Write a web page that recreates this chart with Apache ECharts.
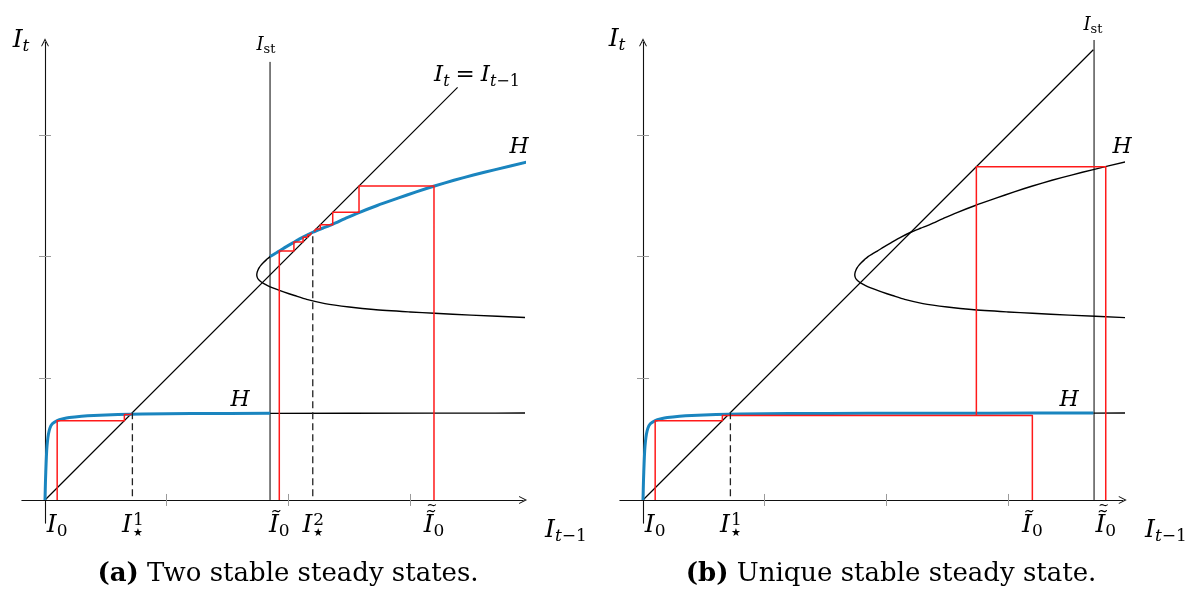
<!DOCTYPE html>
<html><head><meta charset="utf-8">
<script src="https://cdn.jsdelivr.net/npm/echarts@6/dist/echarts.min.js"></script>
<style>html,body{margin:0;padding:0;background:#fff}#c{width:1199px;height:596px}</style>
</head><body><div id="c"></div>
<script>
// ---------------- data (axis units) ----------------
const tickValues = [1, 2, 3];
// lower branch of H (low investment)
const hLow = [[0,0],[0.004,0.16],[0.009,0.3],[0.014,0.41],[0.02,0.48],[0.028,0.54],[0.04,0.59],[0.06,0.626],[0.1,0.652],[0.15,0.667],[0.2,0.677],[0.3,0.688],[0.4,0.695],[0.6,0.703],[0.8,0.707],[1.2,0.71],[1.85,0.712],[2.5,0.713],[3.2,0.714],[3.7,0.714],[3.97,0.715]];
// fold curve: lower part (nose -> right) and upper part (nose -> right)
const foldLower = [[1.74,1.85],[1.742,1.835],[1.748,1.82],[1.76,1.805],[1.78,1.789],[1.81,1.771],[1.85,1.752],[1.9,1.732],[1.96,1.71],[2.05,1.68],[2.15,1.648],[2.3,1.614],[2.5,1.586],[2.7,1.565],[3.0,1.545],[3.2,1.534],[3.5,1.519],[3.97,1.498]];
const foldUpper = [[1.74,1.85],[1.743,1.87],[1.75,1.89],[1.76,1.91],[1.775,1.93],[1.795,1.952],[1.82,1.975],[1.849,2.0],[1.885,2.022],[1.925,2.045],[1.98,2.08],[2.04,2.115],[2.12,2.16],[2.2,2.2],[2.28,2.233],[2.36,2.265],[2.46,2.31],[2.575,2.36],[2.73,2.42],[2.9,2.48],[3.05,2.532],[3.2,2.58],[3.36,2.627],[3.52,2.67],[3.7,2.715],[3.97,2.78]];
// panel (a)
const IstA = 1.849;
const IstTopA = 3.6;
const diagEndA = 3.39;
const cobA1 = [[0.1,0],[0.1,0.652],[0.652,0.652],[0.652,0.703],[0.703,0.703],[0.703,0.71],[0.71,0.71]];
const cobA2 = [[1.925,0],[1.925,2.045],[2.045,2.045],[2.045,2.12],[2.12,2.12],[2.12,2.158],[2.158,2.158],[2.158,2.178],[2.178,2.178],[2.178,2.19],[2.19,2.19],[2.19,2.197]];
const cobA3 = [[3.196,0],[3.196,2.58],[2.58,2.58],[2.58,2.364],[2.364,2.364],[2.364,2.262],[2.262,2.262],[2.262,2.227],[2.227,2.227],[2.227,2.213],[2.213,2.213],[2.213,2.206]];
const dashA = [[[0.718,0.03],[0.718,0.714]], [[2.2,0.03],[2.2,2.2]]];
const labelValsA = [0.1, 0.718, 1.925, 2.2, 3.196];
const labelTextA = ['{I|I}{s|0}', '{Iw|I}{p|1}\n{w| }{k|★}', '{I|Ĩ}{s|0}', '{Iw|I}{p|2}\n{w| }{k|★}', '{I|Ĩ}{s|0}'];
const doubleTildeA = [3.196];
// panel (b)
const IstB = 3.706;
const IstTopB = 3.78;
const diagEndB = 3.70;
const cobB1 = [[0.1,0],[0.1,0.652],[0.652,0.652],[0.652,0.695],[3.199,0.695],[3.199,0]];
const cobB2 = [[3.802,0],[3.802,2.739],[2.739,2.739],[2.739,0.695]];
const dashB = [[[0.718,0.03],[0.718,0.714]]];
const labelValsB = [0.1, 0.718, 3.199, 3.802];
const labelTextB = ['{I|I}{s|0}', '{Iw|I}{p|1}\n{w| }{k|★}', '{I|Ĩ}{s|0}', '{I|Ĩ}{s|0}'];
const doubleTildeB = [3.802];

// ---------------- styling ----------------
const F = "'DejaVu Serif','Liberation Serif',serif";
const BLUE = '#1a85bf', RED = '#ff1a1a';
const richAxis = {
  I:  {fontFamily:F, fontStyle:'italic', fontSize:25, lineHeight:14, height:14, color:'#000'},
  Iw: {fontFamily:F, fontStyle:'italic', fontSize:25, lineHeight:14, height:14, width:12, color:'#000'},
  s:  {fontFamily:F, fontSize:17, lineHeight:2, height:2, verticalAlign:'bottom', color:'#000'},
  p:  {fontFamily:F, fontSize:17, lineHeight:4, height:4, verticalAlign:'top', color:'#000'},
  k:  {fontFamily:"'DejaVu Sans',sans-serif", fontSize:11, lineHeight:2, height:2, verticalAlign:'bottom', color:'#000'},
  w:  {fontFamily:F, fontSize:17, lineHeight:2, height:2, width:11}
};
const arrowPath = 'path://M0,10 Q2.6,5 5,0 Q7.4,5 10,10 L8.7,10 Q6.6,6.2 5,2.8 Q3.4,6.2 1.3,10 Z';
const pick = (vals, texts) => (v, i) => { const k = vals.findIndex(x => Math.abs(x - v) < 1e-6); return texts[k >= 0 ? k : i]; };

function xAxes(grid, max, vals, texts) {
  return [{
    type:'value', gridIndex:grid, min:-0.19, max:max, position:'bottom',
    axisLine:{show:true, onZero:true, symbol:['none', arrowPath], symbolSize:[8,8], lineStyle:{color:'#111', width:1.1}},
    axisTick:{show:true, customValues:tickValues, length:6, inside:false, lineStyle:{color:'#9a9a9a', width:1}},
    axisLabel:{show:true, customValues:vals, margin:-5, formatter:pick(vals, texts), rich:richAxis, color:'#000'},
    splitLine:{show:false}
  }, {
    type:'value', gridIndex:grid, min:-0.19, max:max, position:'bottom',
    axisLine:{show:true, onZero:true, lineStyle:{opacity:0}},
    axisTick:{show:true, customValues:tickValues, length:6, inside:true, lineStyle:{color:'#9a9a9a', width:1}},
    axisLabel:{show:false}, splitLine:{show:false}
  }];
}
function yAxes(grid) {
  return [{
    type:'value', gridIndex:grid, min:-0.19, max:3.761, position:'left',
    axisLine:{show:true, onZero:true, symbol:['none', arrowPath], symbolSize:[8,8], lineStyle:{color:'#111', width:1.1}},
    axisTick:{show:true, customValues:tickValues, length:6, inside:false, lineStyle:{color:'#9a9a9a', width:1}},
    axisLabel:{show:false}, splitLine:{show:false}
  }, {
    type:'value', gridIndex:grid, min:-0.19, max:3.761, position:'left',
    axisLine:{show:true, onZero:true, lineStyle:{opacity:0}},
    axisTick:{show:true, customValues:tickValues, length:6, inside:true, lineStyle:{color:'#9a9a9a', width:1}},
    axisLabel:{show:false}, splitLine:{show:false}
  }];
}
function line(ax, data, color, width, z, dash, smooth) {
  return {type:'line', xAxisIndex:ax, yAxisIndex:ax, data:data, showSymbol:false, symbol:'none',
    clip:false, silent:true, animation:false, z:z, smooth: smooth || false,
    lineStyle:{color:color, width:width, type: dash || 'solid', cap:'butt', join:'round'}};
}
const foldAll = foldLower.slice().reverse().concat(foldUpper.slice(1));

function panelSeries(ax, Ist, IstTop, diagEnd, cobs, dashes) {
  const s = [];
  s.push(line(ax, [[0,0],[diagEnd,diagEnd]], '#000', 1.2, 3));
  s.push(line(ax, [[Ist,0],[Ist,IstTop]], '#000', 1, 3));
  s.push(line(ax, foldAll, '#000', 1.4, 3, null, 0.25));
  s.push(line(ax, hLow.filter(p => p[0] >= Ist - 0.01), '#000', 1.4, 3));
  s.push(line(ax, hLow.filter(p => p[0] <= Ist + 0.01), BLUE, 3, 4, null, 0.2));
  s.push(line(ax, foldUpper.filter(p => p[0] >= Ist - 0.005), BLUE, 3, 4, null, 0.25));
  cobs.forEach(c => s.push(line(ax, c, RED, 1.5, 5)));
  dashes.forEach(d => s.push(line(ax, d, '#222', 1.3, 6, [7,4])));
  return s;
}

const txt = (x, y, text, rich) => ({type:'text', x:x, y:y, z:50, silent:true,
  style:{text:text, rich:rich, align:'center', verticalAlign:'middle', fill:'#000'}});
const richName = {
  I: {fontFamily:F, fontStyle:'italic', fontSize:25, lineHeight:26, height:26, color:'#000'},
  t: {fontFamily:F, fontStyle:'italic', fontSize:17, lineHeight:12, height:12, verticalAlign:'bottom', color:'#000'},
  n: {fontFamily:F, fontSize:17, lineHeight:12, height:12, verticalAlign:'bottom', color:'#000'}
};
const richSt = {
  I: {fontFamily:F, fontStyle:'italic', fontSize:18, lineHeight:18, height:18, color:'#000'},
  s: {fontFamily:F, fontSize:13, lineHeight:9, height:9, verticalAlign:'bottom', color:'#000'}
};
const richEq = {
  I: {fontFamily:F, fontStyle:'italic', fontSize:23, lineHeight:24, height:24, color:'#000'},
  e: {fontFamily:F, fontSize:23, lineHeight:24, height:24, padding:[0,6,0,6], color:'#000'},
  t: {fontFamily:F, fontStyle:'italic', fontSize:16, lineHeight:11, height:11, verticalAlign:'bottom', color:'#000'},
  n: {fontFamily:F, fontSize:16, lineHeight:11, height:11, verticalAlign:'bottom', color:'#000'}
};
const richH = { H: {fontFamily:F, fontStyle:'italic', fontSize:22, color:'#000'} };
const richCap = {
  b: {fontFamily:F, fontWeight:'bold', fontSize:26, color:'#000'},
  r: {fontFamily:F, fontSize:26, color:'#000'}
};
const richTilde = { t: {fontFamily:F, fontSize:13, color:'#000'} };

const graphics = [
  txt(21, 40, '{I|I}{t|t}', richName),
  txt(566, 530, '{I|I}{t|t}{n|−1}', richName),
  txt(266, 45, '{I|I}{s|st}', richSt),
  txt(477, 75, '{I|I}{t|t}{e|=}{I|I}{t|t}{n|−1}', richEq),
  txt(519, 147, '{H|H}', richH),
  txt(240, 400, '{H|H}', richH),
  txt(617, 39, '{I|I}{t|t}', richName),
  txt(1166, 530, '{I|I}{t|t}{n|−1}', richName),
  txt(1093, 25, '{I|I}{s|st}', richSt),
  txt(1122, 147, '{H|H}', richH),
  txt(1069, 400, '{H|H}', richH),
  txt(288, 574, '{b|(a)}{r| Two stable steady states.}', richCap),
  txt(891, 574, '{b|(b)}{r| Unique stable steady state.}', richCap)
];

const option = {
  backgroundColor:'#fff',
  animation:false,
  grid:[
    {left:21.88, top:42.3, width:501.2, height:480.8, outerBoundsMode:'none', containLabel:false},
    {left:619.88, top:42.3, width:502.9, height:480.8, outerBoundsMode:'none', containLabel:false}
  ],
  xAxis:[].concat(xAxes(0, 3.928, labelValsA, labelTextA), xAxes(1, 3.942, labelValsB, labelTextB)),
  yAxis:[].concat(yAxes(0), yAxes(1)),
  series:[].concat(
    panelSeries(0, IstA, IstTopA, diagEndA, [cobA1, cobA2, cobA3], dashA),
    panelSeries(2, IstB, IstTopB, diagEndB, [cobB1, cobB2], dashB)
  ),
  graphic:graphics
};
const chart = echarts.init(document.getElementById('c'));
chart.setOption(option);
// second tilde of the double-tilde labels, placed through the axis scale
const extra = [];
[[0, doubleTildeA], [2, doubleTildeB]].forEach(([ax, vals]) => {
  vals.forEach(v => {
    const p = chart.convertToPixel({xAxisIndex:ax, yAxisIndex:ax}, [v, 0]);
    extra.push(txt(p[0] - 2, p[1] + 6, '{t|~}', richTilde));
  });
});
chart.setOption({graphic: graphics.concat(extra)});
</script></body></html>
